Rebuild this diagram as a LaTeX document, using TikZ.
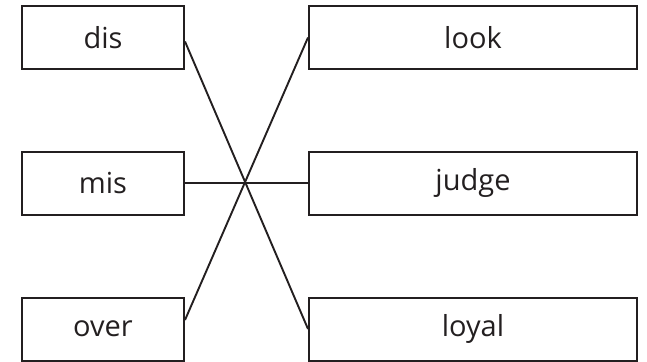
\documentclass[tikz,border=0pt]{standalone}
\usepackage{fontspec}
\setmainfont{Open Sans}
\usepackage{tikz}
\definecolor{inkline}{HTML}{231F20}

\begin{document}
\begin{tikzpicture}[x=1pt, y=1pt]
  \tikzset{prefixbox/.style={draw=inkline, line width=2pt, minimum width=162pt, minimum height=63pt, inner sep=0pt, font=\fontsize{29}{34}\selectfont, text=inkline},
    wordbox/.style={prefixbox, minimum width=328pt},
    matchline/.style={draw=inkline, line width=1.9pt}}
  \useasboundingbox (0,0) rectangle (647,-361);
  % prefixes
  \node[prefixbox] (dis)  at (103,-37.5) {dis};
  \node[prefixbox] (mis)  at (103,-183) {mis};
  \node[prefixbox] (over) at (103,-329) {over};
  % root words
  \node[wordbox] (look)  at (473,-37.5) {look};
  \node[wordbox] (judge) at (473,-183) {judge};
  \node[wordbox] (loyal) at (473,-329) {loyal};
  % matches
  \draw[matchline] ([yshift=-4pt]dis.east) -- (loyal.west);
  \draw[matchline] (mis.east) -- (judge.west);
  \draw[matchline] ([yshift=9pt]over.east) -- (look.west);
\end{tikzpicture}
\end{document}
